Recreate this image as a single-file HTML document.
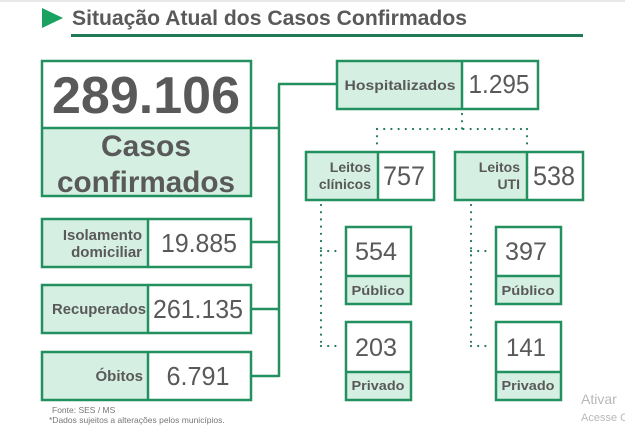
<!DOCTYPE html>
<html><head><meta charset="utf-8"><style>
html,body{margin:0;padding:0;background:#fff;}
svg{display:block;}
text{font-family:"Liberation Sans",Arial,sans-serif;fill:#595959;}
.b{font-weight:bold;}
</style></head><body>
<svg width="625" height="433" viewBox="0 0 625 433" xmlns="http://www.w3.org/2000/svg">
<rect x="0" y="0" width="625" height="433" fill="#fff"/>
<rect x="0" y="0" width="625" height="2" fill="#e8e8e8"/>
<!-- title -->
<polygon points="42,8 63,18 42,28" fill="#1aa260"/>
<text x="72" y="25" class="b" font-size="21" textLength="395" lengthAdjust="spacingAndGlyphs">Situação Atual dos Casos Confirmados</text>
<rect x="71" y="34" width="512" height="3" fill="#217a55"/>

<g fill="none" stroke="#23905f" stroke-width="2.5">
<!-- connectors -->
<line x1="279" y1="84" x2="279" y2="377"/>
<line x1="278" y1="84" x2="337" y2="84"/>
<line x1="252" y1="128" x2="279" y2="128"/>
<line x1="252" y1="242" x2="279" y2="242"/>
<line x1="252" y1="309" x2="279" y2="309"/>
<line x1="252" y1="376" x2="279" y2="376"/>
</g>

<!-- big box -->
<rect x="42" y="61" width="209" height="67" fill="#fff"/>
<rect x="42" y="128" width="209" height="68" fill="#d5efe3"/>
<g fill="none" stroke="#23905f" stroke-width="2.5">
<rect x="42" y="61" width="209" height="135"/>
<line x1="42" y1="128" x2="251" y2="128"/>
</g>
<text x="146" y="113" class="b" font-size="52" text-anchor="middle" textLength="188" lengthAdjust="spacingAndGlyphs">289.106</text>
<text x="146" y="156" class="b" font-size="30" text-anchor="middle">Casos</text>
<text x="146" y="192" class="b" font-size="30" text-anchor="middle" textLength="178" lengthAdjust="spacingAndGlyphs">confirmados</text>

<!-- left small boxes -->
<g>
<rect x="42" y="219" width="106" height="48" fill="#d5efe3"/>
<rect x="148" y="219" width="103" height="48" fill="#fff"/>
<rect x="42" y="285" width="106" height="48" fill="#d5efe3"/>
<rect x="148" y="285" width="103" height="48" fill="#fff"/>
<rect x="42" y="352" width="106" height="48" fill="#d5efe3"/>
<rect x="148" y="352" width="103" height="48" fill="#fff"/>
</g>
<g fill="none" stroke="#23905f" stroke-width="2.5">
<rect x="42" y="219" width="209" height="48"/>
<line x1="148" y1="219" x2="148" y2="267"/>
<rect x="42" y="285" width="209" height="48"/>
<line x1="148" y1="285" x2="148" y2="333"/>
<rect x="42" y="352" width="209" height="48"/>
<line x1="148" y1="352" x2="148" y2="400"/>
</g>
<text x="142" y="240" class="b" font-size="15" text-anchor="end">Isolamento</text>
<text x="142" y="257" class="b" font-size="15" text-anchor="end">domiciliar</text>
<text x="199" y="252" font-size="26" text-anchor="middle" textLength="76" lengthAdjust="spacingAndGlyphs">19.885</text>
<text x="99" y="314" class="b" font-size="15" text-anchor="middle" textLength="94" lengthAdjust="spacingAndGlyphs">Recuperados</text>
<text x="198" y="318" font-size="26" text-anchor="middle" textLength="90" lengthAdjust="spacingAndGlyphs">261.135</text>
<text x="143" y="381" class="b" font-size="15" text-anchor="end">Óbitos</text>
<text x="198" y="385" font-size="26" text-anchor="middle" textLength="63" lengthAdjust="spacingAndGlyphs">6.791</text>

<!-- Hospitalizados -->
<rect x="337" y="61" width="125" height="48" fill="#d5efe3"/>
<rect x="462" y="61" width="76" height="48" fill="#fff"/>
<g fill="none" stroke="#23905f" stroke-width="2.5">
<rect x="337" y="61" width="201" height="48"/>
<line x1="462" y1="61" x2="462" y2="109"/>
</g>
<text x="400" y="90" class="b" font-size="14" text-anchor="middle" textLength="111" lengthAdjust="spacingAndGlyphs">Hospitalizados</text>
<text x="499" y="93" font-size="26" text-anchor="middle" textLength="61" lengthAdjust="spacingAndGlyphs">1.295</text>

<!-- dotted -->
<g fill="none" stroke="#237a58" stroke-width="2.2" stroke-linecap="round" stroke-dasharray="0 7.2">
<line x1="462" y1="114" x2="462" y2="129"/>
<line x1="377" y1="129" x2="528" y2="129"/>
<line x1="377" y1="129" x2="377" y2="148"/>
<line x1="527" y1="129" x2="527" y2="148"/>
<line x1="321" y1="205" x2="321" y2="347"/>
<line x1="321" y1="251" x2="342" y2="251"/>
<line x1="321" y1="346" x2="342" y2="346"/>
<line x1="471" y1="205" x2="471" y2="347"/>
<line x1="471" y1="251" x2="492" y2="251"/>
<line x1="471" y1="346" x2="492" y2="346"/>
</g>

<!-- Leitos boxes -->
<rect x="306" y="152" width="72" height="48" fill="#d5efe3"/>
<rect x="378" y="152" width="56" height="48" fill="#fff"/>
<rect x="455" y="152" width="72" height="48" fill="#d5efe3"/>
<rect x="527" y="152" width="56" height="48" fill="#fff"/>
<g fill="none" stroke="#23905f" stroke-width="2.5">
<rect x="306" y="152" width="128" height="48"/>
<line x1="378" y1="152" x2="378" y2="200"/>
<rect x="455" y="152" width="128" height="48"/>
<line x1="527" y1="152" x2="527" y2="200"/>
</g>
<text x="371" y="172" class="b" font-size="14" text-anchor="end">Leitos</text>
<text x="371" y="189" class="b" font-size="14" text-anchor="end">clínicos</text>
<text x="404" y="185" font-size="27" text-anchor="middle" textLength="42" lengthAdjust="spacingAndGlyphs">757</text>
<text x="520" y="172" class="b" font-size="14" text-anchor="end">Leitos</text>
<text x="520" y="189" class="b" font-size="14" text-anchor="end">UTI</text>
<text x="554" y="185" font-size="27" text-anchor="middle" textLength="42" lengthAdjust="spacingAndGlyphs">538</text>

<!-- Público / Privado -->
<g>
<rect x="346" y="227" width="65" height="49" fill="#fff"/>
<rect x="346" y="276" width="65" height="28" fill="#d5efe3"/>
<rect x="346" y="322" width="65" height="50" fill="#fff"/>
<rect x="346" y="372" width="65" height="28" fill="#d5efe3"/>
<rect x="496" y="227" width="65" height="49" fill="#fff"/>
<rect x="496" y="276" width="65" height="28" fill="#d5efe3"/>
<rect x="496" y="322" width="65" height="50" fill="#fff"/>
<rect x="496" y="372" width="65" height="28" fill="#d5efe3"/>
</g>
<g fill="none" stroke="#23905f" stroke-width="2.5">
<rect x="346" y="227" width="65" height="77"/>
<line x1="346" y1="276" x2="411" y2="276"/>
<rect x="346" y="322" width="65" height="78"/>
<line x1="346" y1="372" x2="411" y2="372"/>
<rect x="496" y="227" width="65" height="77"/>
<line x1="496" y1="276" x2="561" y2="276"/>
<rect x="496" y="322" width="65" height="78"/>
<line x1="496" y1="372" x2="561" y2="372"/>
</g>
<text x="376" y="260" font-size="25" text-anchor="middle" textLength="42" lengthAdjust="spacingAndGlyphs">554</text>
<text x="378" y="295" class="b" font-size="13" text-anchor="middle" textLength="53" lengthAdjust="spacingAndGlyphs">Público</text>
<text x="376" y="356" font-size="25" text-anchor="middle" textLength="42" lengthAdjust="spacingAndGlyphs">203</text>
<text x="378" y="390" class="b" font-size="13" text-anchor="middle" textLength="53" lengthAdjust="spacingAndGlyphs">Privado</text>
<text x="526" y="260" font-size="25" text-anchor="middle" textLength="42" lengthAdjust="spacingAndGlyphs">397</text>
<text x="528" y="295" class="b" font-size="13" text-anchor="middle" textLength="53" lengthAdjust="spacingAndGlyphs">Público</text>
<text x="526" y="356" font-size="25" text-anchor="middle" textLength="40" lengthAdjust="spacingAndGlyphs">141</text>
<text x="528" y="390" class="b" font-size="13" text-anchor="middle" textLength="53" lengthAdjust="spacingAndGlyphs">Privado</text>

<!-- footer -->
<text x="52" y="413" font-size="8.5" style="fill:#777">Fonte: SES / MS</text>
<text x="49" y="423" font-size="8.5" style="fill:#777">*Dados sujeitos a alterações pelos municípios.</text>

<!-- watermark -->
<text x="581" y="404" font-size="14" style="fill:#b8b8b8">Ativar</text>
<text x="581" y="421" font-size="11" style="fill:#b8b8b8">Acesse C</text>
</svg>
</body></html>
